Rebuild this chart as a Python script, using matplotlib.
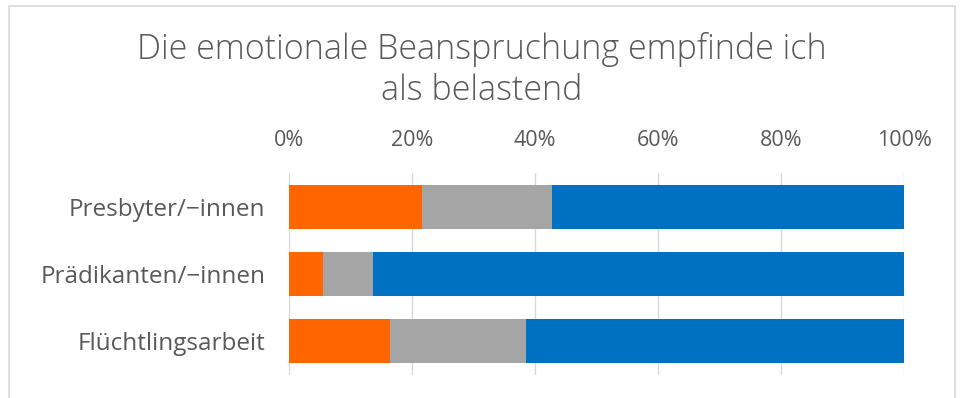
import numpy as np
import matplotlib.pyplot as plt
from matplotlib.patches import Rectangle
from matplotlib.ticker import PercentFormatter

plt.rcParams['font.family'] = ['Open Sans', 'DejaVu Sans']

# shares per group (percent), stacked left to right
groups = ['Presbyter/\u2212innen', 'Prädikanten/\u2212innen', 'Flüchtlingsarbeit']
orange_vals = [21.6, 5.6, 16.5]
gray_vals = [21.2, 8.0, 22.0]
blue_vals = [100 - o - g for o, g in zip(orange_vals, gray_vals)]

colors = ['#FF6600', '#A5A5A5', '#0070C0']
text_col = '#595959'

fig = plt.figure(figsize=(9.63, 3.98), dpi=100)
ax = fig.add_axes([0.300, 0.058, 0.639, 0.507])

y = np.arange(len(groups))
left = np.zeros(len(groups))
for vals, c in zip([orange_vals, gray_vals, blue_vals], colors):
    ax.barh(y, vals, left=left, height=0.66, color=c, zorder=3)
    left += np.array(vals)

ax.set_xlim(0, 100)
ax.set_ylim(2.5, -0.5)
ax.set_xticks(np.arange(0, 101, 20))
ax.xaxis.set_major_formatter(PercentFormatter(decimals=0))
ax.xaxis.tick_top()
ax.set_yticks(y)
ax.set_yticklabels(groups)
ax.tick_params(axis='both', length=0, colors=text_col)
ax.tick_params(axis='x', pad=16, labelsize=15.5)
ax.tick_params(axis='y', pad=17, labelsize=17.5)
ax.grid(axis='x', color='#D9D9D9', linewidth=1, zorder=0)
for s in ax.spines.values():
    s.set_visible(False)

fig.suptitle('Die emotionale Beanspruchung empfinde ich\nals belastend',
             x=0.5, y=0.92, fontsize=24.5, color=text_col, linespacing=1.25,
             fontweight='light')

# outer frame
fig.patches.append(Rectangle((0.009, -0.05), 0.983, 1.035, transform=fig.transFigure,
                             fill=False, edgecolor='#D9D9D9', linewidth=1.2))

fig.savefig('out.png', dpi=100)
